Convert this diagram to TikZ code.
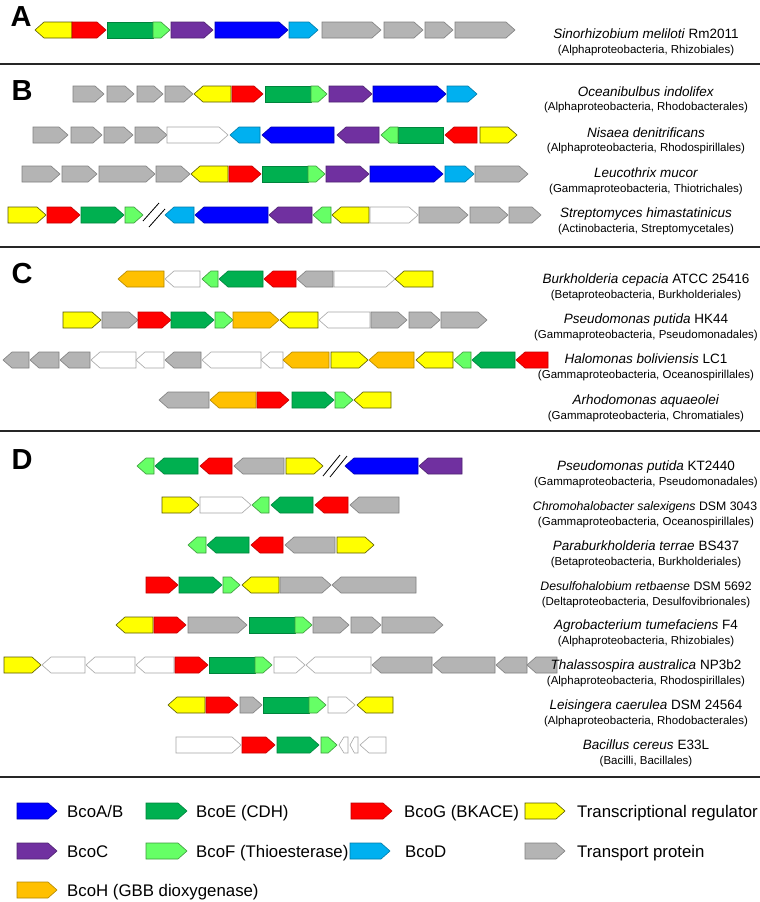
\documentclass[tikz,border=0pt]{standalone}
\usepackage{fontspec}
\setmainfont{Liberation Sans}

% colores de las familias de genes
\definecolor{cAzul}{HTML}{0000FF}
\definecolor{cMorado}{HTML}{7030A0}
\definecolor{cCian}{HTML}{00B0F0}
\definecolor{cVerde}{HTML}{00B050}
\definecolor{cVerdeCl}{HTML}{66FF66}
\definecolor{cRojo}{HTML}{FF0000}
\definecolor{cNaranja}{HTML}{FFC000}
\definecolor{cAmarillo}{HTML}{FFFF00}
\definecolor{cGris}{HTML}{B4B4B4}

% gen en forma de flecha: estilo, cola, punta, y
\newcommand{\gen}[4]{%
  \pgfmathsetmacro{\gLen}{abs(#3-#2)}%
  \pgfmathsetmacro{\gHead}{min(9,0.55*\gLen)*sign(#3-#2)}%
  \pgfmathsetmacro{\gNeck}{#3-\gHead}%
  \draw[gene,#1] (#2,#4-8) -- (\gNeck,#4-8) -- (#3,#4) -- (\gNeck,#4+8) -- (#2,#4+8) -- cycle;}
% tramo sin punta (genes fusionados)
\newcommand{\caja}[4]{\draw[gene,#1] (#2,#4-8) rectangle (#3,#4+8);}

\begin{document}
\begin{tikzpicture}[
    x=1pt, y=-1pt,
    gene/.style = {line width=0.6pt, line join=miter},
    azul/.style = {fill=cAzul, draw=cAzul!70!black},
    morado/.style = {fill=cMorado, draw=cMorado!70!black},
    cian/.style = {fill=cCian, draw=cCian!70!black},
    verde/.style = {fill=cVerde, draw=cVerde!75!black},
    verdecl/.style = {fill=cVerdeCl, draw=cVerdeCl!60!black},
    rojo/.style = {fill=cRojo, draw=cRojo!75!black},
    naranja/.style = {fill=cNaranja, draw=cNaranja!70!black},
    amarillo/.style = {fill=cAmarillo, draw=cAmarillo!35!black},
    gris/.style = {fill=cGris, draw=black!50},
    blanco/.style = {fill=white, draw=black!35},
    corte/.style = {line width=0.8pt, black},
    sep/.style = {line width=2pt, black!85},
    letra/.style = {font=\fontsize{29}{32}\selectfont\bfseries},
    especie/.style = {anchor=base, inner sep=0pt, font=\fontsize{13.5}{16}\selectfont},
    especiel/.style = {especie, font=\fontsize{12.3}{15}\selectfont},
    taxon/.style = {anchor=base, inner sep=0pt, font=\fontsize{11.5}{14}\selectfont},
    leyenda/.style = {anchor=base west, inner sep=0pt, font=\fontsize{16.8}{19}\selectfont}
    ]

    \fill[white] (0,0) rectangle (760,902);
    \useasboundingbox (0,0) rectangle (760,902);

    % --- SEPARADORES Y LETRAS ---
    \draw[sep] (0,64) -- (760,64);
    \draw[sep] (0,247) -- (760,247);
    \draw[sep] (0,431) -- (760,431);
    \draw[sep] (0,777) -- (760,777);
    \node[letra] (letA) at (21,17) {A};
    \node[letra] (letB) at (22,91) {B};
    \node[letra] (letC) at (22,274) {C};
    \node[letra] (letD) at (22,460) {D};

    % --- A ---
    \gen{amarillo}{72}{35}{30} \gen{rojo}{72}{106}{30}
    \caja{verde}{107}{153}{30} \gen{verdecl}{153}{170}{30}
    \gen{morado}{171}{213}{30} \gen{azul}{215}{288}{30} \gen{cian}{289}{318}{30}
    \gen{gris}{322}{381}{30} \gen{gris}{384}{423}{30} \gen{gris}{425}{453}{30} \gen{gris}{455}{515}{30}
    \node[especie] (spA) at (646,38) {\textit{Sinorhizobium meliloti} Rm2011};
    \node[taxon] (txA) at (646,53) {(Alphaproteobacteria, Rhizobiales)};

    % --- B ---
    \gen{gris}{73}{104}{94} \gen{gris}{107}{134}{94} \gen{gris}{137}{163}{94} \gen{gris}{165}{193}{94}
    \gen{amarillo}{231}{194}{94} \gen{rojo}{232}{263}{94}
    \caja{verde}{265}{311}{94} \gen{verdecl}{311}{327}{94}
    \gen{morado}{329}{372}{94} \gen{azul}{373}{446}{94} \gen{cian}{447}{477}{94}
    \node[especie] (spB1) at (646,96) {\textit{Oceanibulbus indolifex}};
    \node[taxon] (txB1) at (646,110) {(Alphaproteobacteria, Rhodobacterales)};

    \gen{gris}{33}{68}{135} \gen{gris}{71}{102}{135} \gen{gris}{104}{133}{135} \gen{gris}{135}{167}{135}
    \gen{blanco}{167}{228}{135} \gen{cian}{260}{230}{135} \gen{azul}{334}{262}{135} \gen{morado}{379}{337}{135}
    \caja{verde}{398}{443}{135} \gen{verdecl}{398}{381}{135}
    \gen{rojo}{477}{445}{135} \gen{amarillo}{480}{517}{135}
    \node[especie] (spB2) at (646,137) {\textit{Nisaea denitrificans}};
    \node[taxon] (txB2) at (646,151) {(Alphaproteobacteria, Rhodospirillales)};

    \gen{gris}{22}{60}{174} \gen{gris}{62}{97}{174} \gen{gris}{99}{155}{174} \gen{gris}{156}{190}{174}
    \gen{amarillo}{228}{191}{174} \gen{rojo}{229}{261}{174}
    \caja{verde}{262}{308}{174} \gen{verdecl}{308}{325}{174}
    \gen{morado}{326}{369}{174} \gen{azul}{370}{443}{174} \gen{cian}{445}{474}{174} \gen{gris}{475}{528}{174}
    \node[especie] (spB3) at (646,177) {\textit{Leucothrix mucor}};
    \node[taxon] (txB3) at (646,192) {(Gammaproteobacteria, Thiotrichales)};

    \gen{amarillo}{8}{46}{215} \gen{rojo}{47}{80}{215} \gen{verde}{81}{124}{215} \gen{verdecl}{125}{143}{215}
    \draw[corte] (143,221) -- (159,203);
    \draw[corte] (149,227) -- (165,209);
    \gen{cian}{194}{165}{215} \gen{azul}{268}{195}{215} \gen{morado}{312}{269}{215}
    \gen{verdecl}{331}{313}{215} \gen{amarillo}{369}{332}{215} \gen{blanco}{370}{418}{215}
    \gen{gris}{419}{468}{215} \gen{gris}{470}{508}{215} \gen{gris}{509}{541}{215}
    \node[especie] (spB4) at (646,217) {\textit{Streptomyces himastatinicus}};
    \node[taxon] (txB4) at (646,232) {(Actinobacteria, Streptomycetales)};

    % --- C ---
    \gen{naranja}{164}{118}{279} \gen{blanco}{200}{165}{279} \gen{verdecl}{218}{202}{279}
    \gen{verde}{263}{219}{279} \gen{rojo}{296}{264}{279} \gen{gris}{333}{297}{279}
    \gen{blanco}{334}{395}{279} \gen{amarillo}{433}{395}{279}
    \node[especie] (spC1) at (646,283) {\textit{Burkholderia cepacia} ATCC 25416};
    \node[taxon] (txC1) at (646,298) {(Betaproteobacteria, Burkholderiales)};

    \gen{amarillo}{63}{101}{320} \gen{gris}{102}{138}{320} \gen{rojo}{138}{171}{320} \gen{verde}{171}{214}{320}
    \gen{verdecl}{215}{233}{320} \gen{naranja}{233}{279}{320} \gen{amarillo}{318}{280}{320}
    \gen{blanco}{370}{319}{320} \gen{gris}{371}{407}{320} \gen{gris}{409}{440}{320} \gen{gris}{441}{487}{320}
    \node[especie] (spC2) at (646,323) {\textit{Pseudomonas putida} HK44};
    \node[taxon] (txC2) at (646,338) {(Gammaproteobacteria, Pseudomonadales)};

    \gen{gris}{29}{3}{360} \gen{gris}{59}{30}{360} \gen{gris}{90}{60}{360} \gen{blanco}{136}{91}{360}
    \gen{blanco}{164}{136}{360} \gen{gris}{201}{165}{360} \gen{blanco}{261}{202}{360} \gen{blanco}{283}{261}{360}
    \gen{naranja}{329}{283}{360} \gen{amarillo}{331}{368}{360} \gen{naranja}{414}{369}{360}
    \gen{amarillo}{453}{416}{360} \gen{verdecl}{471}{454}{360} \gen{verde}{515}{472}{360} \gen{rojo}{548}{516}{360}
    \node[especie] (spC3) at (646,363) {\textit{Halomonas boliviensis} LC1};
    \node[taxon] (txC3) at (646,378) {(Gammaproteobacteria, Oceanospirillales)};

    \gen{gris}{209}{159}{400} \gen{naranja}{256}{210}{400} \gen{rojo}{257}{289}{400}
    \gen{verde}{292}{334}{400} \gen{verdecl}{335}{353}{400} \gen{amarillo}{391}{354}{400}
    \node[especie] (spC4) at (646,404) {\textit{Arhodomonas aquaeolei}};
    \node[taxon] (txC4) at (646,419) {(Gammaproteobacteria, Chromatiales)};

    % --- D ---
    \gen{verdecl}{154}{137}{466} \gen{verde}{198}{155}{466} \gen{rojo}{232}{200}{466}
    \gen{gris}{284}{234}{466} \gen{amarillo}{286}{323}{466}
    \draw[corte] (323,476) -- (340,455);
    \draw[corte] (330,477) -- (347,456);
    \gen{azul}{418}{345}{466} \gen{morado}{462}{419}{466}
    \node[especie] (spD1) at (646,470) {\textit{Pseudomonas putida} KT2440};
    \node[taxon] (txD1) at (646,485) {(Gammaproteobacteria, Pseudomonadales)};

    \gen{amarillo}{162}{199}{505} \gen{blanco}{200}{251}{505} \gen{verdecl}{269}{252}{505}
    \gen{verde}{313}{271}{505} \gen{rojo}{348}{315}{505} \gen{gris}{399}{350}{505}
    \node[especiel] (spD2) at (645,510) {\textit{Chromohalobacter salexigens} DSM 3043};
    \node[taxon] (txD2) at (646,525) {(Gammaproteobacteria, Oceanospirillales)};

    \gen{verdecl}{206}{188}{545} \gen{verde}{249}{207}{545} \gen{rojo}{283}{251}{545}
    \gen{gris}{335}{285}{545} \gen{amarillo}{337}{374}{545}
    \node[especie] (spD3) at (646,550) {\textit{Paraburkholderia terrae} BS437};
    \node[taxon] (txD3) at (646,565) {(Betaproteobacteria, Burkholderiales)};

    \gen{rojo}{146}{178}{585} \gen{verde}{179}{222}{585} \gen{verdecl}{223}{240}{585}
    \gen{amarillo}{279}{242}{585} \gen{gris}{280}{331}{585} \gen{gris}{416}{332}{585}
    \node[especiel] (spD4) at (646,590) {\textit{Desulfohalobium retbaense} DSM 5692};
    \node[taxon] (txD4) at (646,605) {(Deltaproteobacteria, Desulfovibrionales)};

    \gen{amarillo}{153}{116}{625} \gen{rojo}{154}{186}{625} \gen{gris}{188}{247}{625}
    \caja{verde}{249}{295}{625} \gen{verdecl}{295}{312}{625}
    \gen{gris}{313}{349}{625} \gen{gris}{351}{381}{625} \gen{gris}{382}{443}{625}
    \node[especie] (spD5) at (646,629) {\textit{Agrobacterium tumefaciens} F4};
    \node[taxon] (txD5) at (646,644) {(Alphaproteobacteria, Rhizobiales)};

    \gen{amarillo}{4}{41}{665} \gen{blanco}{85}{42}{665} \gen{blanco}{135}{86}{665} \gen{blanco}{174}{136}{665}
    \gen{rojo}{175}{208}{665} \caja{verde}{209}{255}{665} \gen{verdecl}{255}{272}{665}
    \gen{blanco}{274}{305}{665} \gen{blanco}{371}{306}{665} \gen{gris}{432}{372}{665}
    \gen{gris}{495}{433}{665} \gen{gris}{527}{496}{665} \gen{gris}{557}{527}{665}
    \node[especie] (spD6) at (646,669) {\textit{Thalassospira australica} NP3b2};
    \node[taxon] (txD6) at (646,684) {(Alphaproteobacteria, Rhodospirillales)};

    \gen{amarillo}{205}{168}{705} \gen{rojo}{206}{238}{705} \gen{gris}{240}{262}{705}
    \caja{verde}{263}{309}{705} \gen{verdecl}{309}{326}{705}
    \gen{blanco}{328}{355}{705} \gen{amarillo}{393}{357}{705}
    \node[especie] (spD7) at (646,709) {\textit{Leisingera caerulea} DSM 24564};
    \node[taxon] (txD7) at (646,724) {(Alphaproteobacteria, Rhodobacterales)};

    \gen{blanco}{176}{241}{745} \gen{rojo}{242}{275}{745} \gen{verde}{277}{319}{745}
    \gen{verdecl}{321}{337}{745} \gen{blanco}{348}{339}{745} \gen{blanco}{358}{350}{745}
    \gen{blanco}{386}{360}{745}
    \node[especie] (spD8) at (646,749) {\textit{Bacillus cereus} E33L};
    \node[taxon] (txD8) at (646,764) {(Bacilli, Bacillales)};

    % --- LEYENDA ---
    \gen{azul}{17}{57}{811} \node[leyenda] (lgAB) at (67,817) {BcoA/B};
    \gen{verde}{146}{187}{811} \node[leyenda] (lgE) at (196,817) {BcoE (CDH)};
    \gen{rojo}{351}{392}{811} \node[leyenda] (lgG) at (404,817) {BcoG (BKACE)};
    \gen{amarillo}{525}{565}{811} \node[leyenda] (lgReg) at (577,817) {Transcriptional regulator};
    \gen{morado}{17}{57}{851} \node[leyenda] (lgC) at (67,857) {BcoC};
    \gen{verdecl}{146}{187}{851} \node[leyenda] (lgF) at (196,857) {BcoF (Thioesterase)};
    \gen{cian}{350}{390}{851} \node[leyenda] (lgD) at (405,857) {BcoD};
    \gen{gris}{525}{565}{851} \node[leyenda] (lgTr) at (577,857) {Transport protein};
    \gen{naranja}{17}{57}{890} \node[leyenda] (lgH) at (67,896) {BcoH (GBB dioxygenase)};

\end{tikzpicture}
\end{document}
